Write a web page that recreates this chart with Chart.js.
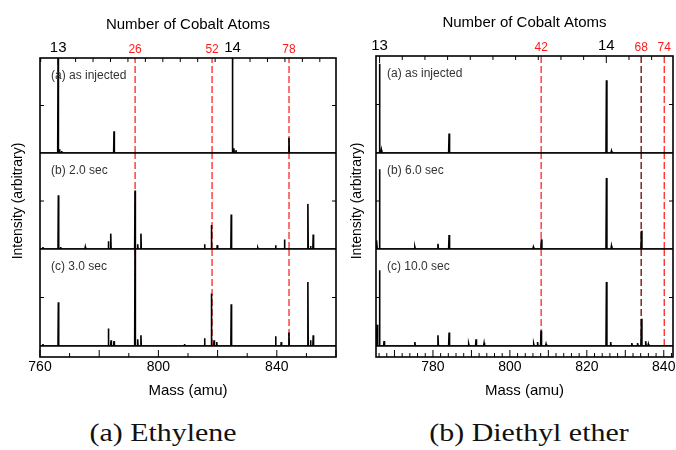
<!DOCTYPE html>
<html>
<head>
<meta charset="utf-8">
<script src="https://cdn.jsdelivr.net/npm/chart.js@4.4.1/dist/chart.umd.min.js"></script>
<style>
  body { margin: 0; background: #fff; width: 676px; height: 450px; position: relative; overflow: hidden; }
  canvas { position: absolute; top: 0; }
  #left { left: 0; }
  #right { left: 340px; }
  .cap { position: absolute; top: 418px; font-family: "Liberation Serif", "Times New Roman", serif;
         font-size: 26px; color: #111; white-space: nowrap; transform: translateX(-50%) scaleX(1.15); }
</style>
</head>
<body>
<canvas id="left" width="340" height="400"></canvas>
<canvas id="right" width="336" height="400"></canvas>
<div class="cap" style="left:163px">(a) Ethylene</div>
<div class="cap" style="left:529px">(b) Diethyl ether</div>
<script>
const CO = 58.9332;          // mass of one cobalt atom
const CO13 = 13 * CO;

// ---- (a) Ethylene: peak mass (amu) / relative height, one pair per trace
const ethMassA = [766.1, 766.6, 767.3, 785.0, 825.0, 825.5, 826.2, 844.1];
const ethIntA  = [1.0, 0.04, 0.02, 0.23, 1.0, 0.05, 0.03, 0.16];
const ethMassB = [761.0, 766.2, 767.0, 775.3, 783.1, 783.9, 792.1, 793.0, 794.1, 815.6, 817.9, 819.9, 824.6, 833.6, 839.6, 842.6, 850.5, 851.4, 852.3];
const ethIntB  = [0.02, 0.56, 0.02, 0.02, 0.08, 0.16, 0.61, 0.05, 0.16, 0.05, 0.25, 0.04, 0.36, 0.01, 0.04, 0.10, 0.47, 0.03, 0.15];
const ethMassC = [761.0, 766.2, 783.1, 784.0, 785.0, 792.1, 793.0, 794.1, 808.8, 815.6, 817.9, 818.8, 819.7, 824.6, 839.6, 841.5, 844.1, 850.5, 851.4, 852.3];
const ethIntC  = [0.02, 0.45, 0.18, 0.06, 0.05, 1.0, 0.07, 0.11, 0.02, 0.08, 0.54, 0.06, 0.04, 0.43, 0.10, 0.04, 0.14, 0.66, 0.06, 0.11];
const ethLabels = ['(a) as injected', '(b) 2.0 sec', '(c) 3.0 sec'];
const ethLigands = [26, 52, 78];
const ethMassTicks = [760, 770, 780, 790, 800, 810, 820, 830, 840, 850, 860];
const ethMassLabels = [760, 800, 840];
const ethAtomTicks = [12.9, 13, 13.1, 13.2, 13.3, 13.4, 13.5, 13.6, 13.7, 13.8, 13.9, 14, 14.1, 14.2, 14.3, 14.4, 14.5];

// ---- (b) Diethyl ether
const deMassA = [766.1, 766.6, 784.2, 825.1, 826.4];
const deIntA  = [0.92, 0.03, 0.20, 0.75, 0.02];
const deMassB = [765.4, 766.1, 775.3, 781.3, 784.2, 806.1, 808.2, 825.1, 826.4, 834.2];
const deIntB  = [0.09, 0.83, 0.02, 0.055, 0.145, 0.02, 0.10, 0.74, 0.03, 0.19];
const deMassC = [765.5, 766.1, 767.3, 775.3, 781.3, 784.2, 789.3, 791.2, 793.3, 806.2, 807.2, 808.1, 809.4, 825.1, 826.2, 831.7, 833.2, 834.2, 835.3, 836.0];
const deIntC  = [0.22, 0.78, 0.05, 0.04, 0.11, 0.14, 0.02, 0.07, 0.03, 0.02, 0.04, 0.16, 0.02, 0.66, 0.04, 0.03, 0.03, 0.28, 0.05, 0.02];
const deLabels = ['(a) as injected', '(b) 6.0 sec', '(c) 10.0 sec'];
const deLigands = [42, 68, 74];
const deMassTicks = [766, 768, 770, 772, 774, 776, 778, 780, 782, 784, 786, 788, 790, 792, 794, 796, 798, 800,
  802, 804, 806, 808, 810, 812, 814, 816, 818, 820, 822, 824, 826, 828, 830, 832, 834, 836, 838, 840, 842];
const deMassLabels = [780, 800, 820, 840];
const deAtomTicks = [13, 13.1, 13.2, 13.3, 13.4, 13.5, 13.6, 13.7, 13.8, 13.9, 14, 14.1, 14.2];

const FONT = '"Liberation Sans", Arial, sans-serif';
const SUBS = ['ya', 'yb', 'yc'];

function spikes(mass, height, lo, hi) {
  const pts = [{ x: lo, y: 0 }];
  mass.forEach((m, i) => {
    pts.push({ x: m - 0.12, y: 0 }, { x: m, y: height[i] }, { x: m + 0.12, y: 0 });
  });
  pts.push({ x: hi, y: 0 });
  return pts;
}

function topTicks(atoms, ligands) {
  const t = atoms.map(n => ({
    value: n * CO,
    kind: Number.isInteger(n) ? 'major' : 'minor',
    txt: Number.isInteger(n) ? String(n) : ''
  }));
  ligands.forEach(L => t.push({ value: CO13 + L, kind: 'lig', txt: String(L) }));
  return t.sort((a, b) => a.value - b.value);
}

const framePlugin = {
  id: 'frame',
  afterDatasetsDraw(chart, args, opts) {
    const { ctx, chartArea: a, scales } = chart;
    ctx.save();
    ctx.strokeStyle = '#000';
    ctx.lineWidth = 1.6;
    ctx.strokeRect(a.left, a.top, a.right - a.left, a.bottom - a.top);
    ctx.beginPath();
    SUBS.forEach(id => {
      ctx.moveTo(a.left, scales[id].bottom);
      ctx.lineTo(a.right, scales[id].bottom);
    });
    ctx.stroke();

    ctx.lineWidth = 1;
    ctx.beginPath();
    SUBS.forEach(id => {
      const m = scales[id].getPixelForValue(0.5);
      ctx.moveTo(a.left, m); ctx.lineTo(a.left + 4, m);
      ctx.moveTo(a.right, m); ctx.lineTo(a.right - 4, m);
    });
    scales.x2.ticks.forEach(t => {
      if (t.kind === 'lig') return;
      const px = scales.x2.getPixelForValue(t.value);
      ctx.moveTo(px, a.top);
      ctx.lineTo(px, a.top + (t.kind === 'major' ? 7 : 4));
    });
    scales.x.ticks.forEach(t => {
      const px = scales.x.getPixelForValue(t.value);
      const len = t.value % opts.majorStep === 0 ? 7 : 4;
      ctx.moveTo(px, a.bottom);
      ctx.lineTo(px, a.bottom - len);
    });
    ctx.stroke();

    ctx.fillStyle = '#333';
    ctx.font = '12px ' + FONT;
    ctx.textBaseline = 'middle';
    opts.labels.forEach((txt, i) => {
      ctx.fillText(txt, a.left + 11, scales[SUBS[i]].top + 18);
    });
    ctx.restore();
  }
};

function makeChart(id, cfg) {
  const datasets = [];
  cfg.spectra.forEach((sp, i) => {
    datasets.push({
      data: spikes(sp[0], sp[1], cfg.min, cfg.max),
      xAxisID: 'x', yAxisID: SUBS[i],
      borderColor: '#000', borderWidth: 1.6, pointRadius: 0, tension: 0
    });
  });
  cfg.spectra.forEach((sp, i) => {
    cfg.ligands.forEach((L, j) => {
      datasets.push({
        data: [{ x: CO13 + L, y: 0 }, { x: CO13 + L, y: 1 }],
        xAxisID: 'x', yAxisID: SUBS[i],
        borderColor: cfg.ligColors[j], borderWidth: 1.4, borderDash: [7, 3],
        pointRadius: 0
      });
    });
  });

  const yAxis = (w, title) => ({
    type: 'linear', position: 'left', stack: 'spec', stackWeight: w,
    min: 0, max: 1,
    ticks: { display: false },
    grid: { display: false, drawTicks: false },
    border: { display: false },
    title: title ? { display: true, text: title, color: '#000', font: { family: FONT, size: 14 },
                     padding: { top: cfg.yTitlePad, bottom: 0 } } : { display: false },
    afterFit: s => { s.width = cfg.leftW; }
  });

  return new Chart(document.getElementById(id), {
    type: 'line',
    data: { datasets },
    plugins: [framePlugin],
    options: {
      responsive: false,
      animation: false,
      events: [],
      devicePixelRatio: 1,
      layout: { padding: { left: 0, right: cfg.padRight, top: 0, bottom: 0 } },
      plugins: {
        legend: { display: false },
        tooltip: { enabled: false },
        frame: { labels: cfg.labels, majorStep: cfg.majorStep }
      },
      scales: {
        x: {
          type: 'linear', position: 'bottom', min: cfg.min, max: cfg.max,
          afterBuildTicks: s => { s.ticks = cfg.massTicks.map(v => ({ value: v })); },
          ticks: {
            autoSkip: false, maxRotation: 0, padding: 1.3, color: '#000',
            font: { family: FONT, size: 14 },
            callback: v => (cfg.massLabels.includes(v) ? String(v) : '')
          },
          grid: { display: false, drawTicks: false },
          border: { display: false },
          title: { display: true, text: 'Mass (amu)', color: '#000', font: { family: FONT, size: 15 },
                   padding: { top: 0, bottom: 0 } },
          afterFit: s => { s.height = 43; }
        },
        x2: {
          type: 'linear', position: 'top', min: cfg.min, max: cfg.max,
          afterBuildTicks: s => { s.ticks = topTicks(cfg.atoms, cfg.ligands); },
          ticks: {
            autoSkip: false, maxRotation: 0, padding: 1.5,
            color: c => (c.tick && c.tick.kind === 'lig' ? '#ff1a1a' : '#000'),
            font: c => ({ family: FONT, size: c.tick && c.tick.kind === 'lig' ? 12 : 15 }),
            callback: (v, i, t) => t[i].txt
          },
          grid: { display: false, drawTicks: false },
          border: { display: false },
          title: { display: true, text: 'Number of Cobalt Atoms', color: '#000',
                   font: { family: FONT, size: 15 }, padding: { top: cfg.topTitlePad, bottom: 0 } },
          afterFit: s => { s.height = cfg.topH; }
        },
        ys: yAxis(11),
        yc: yAxis(97),
        yb: yAxis(96, 'Intensity (arbitrary)'),
        ya: yAxis(cfg.topWeight)
      }
    }
  });
}

makeChart('left', {
  min: 760, max: 860,
  spectra: [[ethMassA, ethIntA], [ethMassB, ethIntB], [ethMassC, ethIntC]],
  labels: ethLabels, ligands: ethLigands,
  ligColors: ['rgba(255,30,30,0.9)', 'rgba(255,30,30,0.9)', 'rgba(255,30,30,0.9)'],
  massTicks: ethMassTicks, massLabels: ethMassLabels, majorStep: 20,
  atoms: ethAtomTicks,
  leftW: 40, padRight: 4, topH: 58, topWeight: 95, topTitlePad: 15.5, yTitlePad: 10
});

makeChart('right', {
  min: 765.2, max: 842.4,
  spectra: [[deMassA, deIntA], [deMassB, deIntB], [deMassC, deIntC]],
  labels: deLabels, ligands: deLigands,
  ligColors: ['rgba(255,30,30,0.9)', 'rgb(120,20,20)', 'rgba(255,30,30,0.9)'],
  massTicks: deMassTicks, massLabels: deMassLabels, majorStep: 10,
  atoms: deAtomTicks,
  leftW: 36, padRight: 3, topH: 56, topWeight: 97, topTitlePad: 14, yTitlePad: 8.6
});
</script>
</body>
</html>
